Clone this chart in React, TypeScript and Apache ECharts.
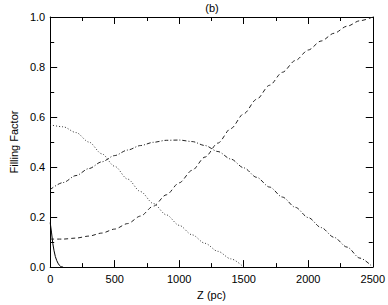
import React, { useEffect, useRef } from "react";
import * as echarts from "echarts";

const zSolid = [0, 10, 20, 30, 40, 50, 60, 70, 80, 90, 100];
const vSolid = [0.178, 0.14, 0.095, 0.065, 0.042, 0.027, 0.016, 0.008, 0.003, 0.001, 0];

const zGrid = [0, 100, 200, 300, 400, 500, 600, 700, 800, 900, 1000, 1100, 1200, 1300, 1400, 1500, 1600, 1700, 1800, 1900, 2000, 2100, 2200, 2300, 2400, 2500];

const vDotted = [0.569, 0.561, 0.538, 0.5, 0.453, 0.403, 0.352, 0.302, 0.254, 0.209, 0.167, 0.129, 0.095, 0.063, 0.033, 0];
const vDashDot = [0.31, 0.338, 0.366, 0.394, 0.421, 0.446, 0.468, 0.486, 0.499, 0.507, 0.508, 0.502, 0.486, 0.462, 0.432, 0.397, 0.359, 0.32, 0.28, 0.239, 0.198, 0.158, 0.119, 0.08, 0.036, 0];
const vDashed = [0.112, 0.112, 0.116, 0.124, 0.136, 0.152, 0.174, 0.204, 0.244, 0.289, 0.337, 0.387, 0.44, 0.496, 0.554, 0.613, 0.671, 0.727, 0.779, 0.826, 0.868, 0.904, 0.935, 0.963, 0.985, 1.0];

const pairs = (xs: number[], ys: number[]) => ys.map((y, i) => [xs[i], y]);

export default function App() {
  const ref = useRef<HTMLDivElement>(null);
  useEffect(() => {
    if (!ref.current) return;
    const chart = echarts.init(ref.current, null, { renderer: "svg" });
    const font = "Liberation Sans, Arial, Helvetica, sans-serif";
    const mk = () => ({
      axisLine: { show: true, onZero: false, lineStyle: { color: "#000", width: 1 } },
      axisTick: { show: true, inside: true, length: 7, lineStyle: { color: "#000", width: 1, type: "solid" } },
      minorTick: { show: true, splitNumber: 2, length: 4, lineStyle: { color: "#000", width: 1, type: "solid" } },
      splitLine: { show: false },
    });
    const lineCommon = { type: "line", showSymbol: false, smooth: 0.3, smoothMonotone: "x", silent: true };
    chart.setOption({
      animation: false,
      title: {
        text: "(b)",
        left: 207,
        textAlign: "center",
        top: -3,
        textStyle: { fontFamily: font, fontSize: 11, fontWeight: "normal", color: "#000" },
      },
      grid: { left: 40, right: 14, top: 17, bottom: 35 },
      xAxis: [
        {
          ...mk(),
          type: "value",
          min: 0,
          max: 2500,
          interval: 500,
          position: "bottom",
          name: "Z (pc)",
          nameLocation: "middle",
          nameGap: 20,
          nameTextStyle: { fontFamily: font, fontSize: 11, color: "#000" },
          axisLabel: { fontFamily: font, fontSize: 11, color: "#000", margin: 6, formatter: (v: number) => String(v) },
        },
        {
          ...mk(),
          type: "value",
          min: 0,
          max: 2500,
          interval: 500,
          position: "top",
          axisLabel: { show: false },
        },
      ],
      yAxis: [
        {
          ...mk(),
          type: "value",
          min: 0,
          max: 1,
          interval: 0.2,
          position: "left",
          name: "Filling Factor",
          nameLocation: "middle",
          nameGap: 24,
          nameTextStyle: { fontFamily: font, fontSize: 11, color: "#000" },
          axisLabel: {
            fontFamily: font,
            fontSize: 11,
            color: "#000",
            margin: 5,
            formatter: (v: number) => v.toFixed(1),
          },
        },
        {
          ...mk(),
          type: "value",
          min: 0,
          max: 1,
          interval: 0.2,
          position: "right",
          axisLabel: { show: false },
        },
      ],
      series: [
        {
          ...lineCommon,
          smooth: false,
          data: pairs(zSolid, vSolid),
          lineStyle: { color: "#000", width: 1, type: "solid" },
        },
        {
          ...lineCommon,
          data: pairs(zGrid, vDotted),
          lineStyle: { color: "#333", width: 1, type: [1, 2] },
        },
        {
          ...lineCommon,
          data: pairs(zGrid, vDashDot),
          lineStyle: { color: "#222", width: 1, type: [4, 2, 1, 2] },
        },
        {
          ...lineCommon,
          data: pairs(zGrid, vDashed),
          lineStyle: { color: "#222", width: 1, type: [4, 3] },
        },
      ],
    });
    return () => chart.dispose();
  }, []);
  return <div ref={ref} style={{ width: 388, height: 305, position: "absolute", left: 0, top: 0, background: "#fff" }} />;
}
